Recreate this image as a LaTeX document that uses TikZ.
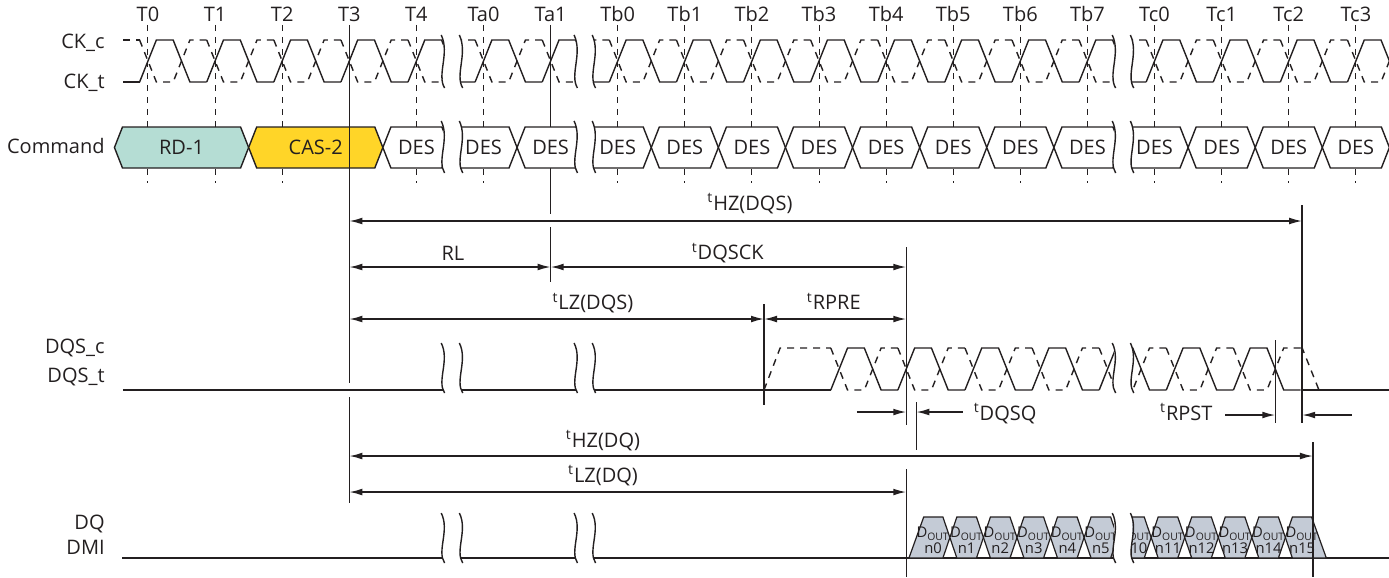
\documentclass[tikz,border=0pt]{standalone}
\usepackage{fontspec}
\setmainfont{Open Sans}
\usetikzlibrary{arrows.meta}

\definecolor{ink}{RGB}{35,31,32}
\definecolor{rdfill}{RGB}{181,221,212}
\definecolor{casfill}{RGB}{255,213,40}
\definecolor{dqfill}{RGB}{196,203,214}

\tikzset{
  sig/.style={line width=0.7pt, draw=ink},
  cdash/.style={dash pattern=on 3.5pt off 3pt},
  grid/.style={line width=0.5pt, draw=ink, dash pattern=on 3pt off 3pt},
  refline/.style={line width=0.75pt, draw=ink},
  dim/.style={line width=0.75pt, draw=ink, {Latex[length=6.5pt,width=3.4pt]}-{Latex[length=6.5pt,width=3.4pt]}},
  tip/.style={line width=0.75pt, draw=ink, -{Latex[length=6.5pt,width=3.4pt]}},
  lab/.style={font=\fontsize{10}{12}\selectfont, text=ink, inner sep=0pt, text height=7.2pt, text depth=0pt},
  signame/.style={lab, anchor=east},
  tick/.style={lab, font=\fontsize{10}{12}\selectfont, text height=7.2pt},
  cmdbox/.style={line width=0.7pt, draw=ink},
  dbox/.style={line width=0.6pt, draw=ink, fill=dqfill},
  dlab/.style={font=\fontsize{7.4}{8}\selectfont, text=ink, inner sep=0pt, text height=5.3pt, text depth=0pt},
}

% one clock period, rising crossing at #1, levels #2 (after) / #3 (before)
\newcommand\ckper[4]{%
  \draw[#4] ({#1-0.125},#3) -- ({#1+0.125},#2) -- ({#1+0.375},#2) -- ({#1+0.625},#3) -- ({#1+0.875},#3);}
% break mark at #1 from y #2 to y #3
\newcommand\wavebreak[3]{%
  \draw[sig] ({#1-0.03},#2) .. controls ({#1+0.1},{#2+0.35*(#3-#2)}) and ({#1-0.1},{#2+0.75*(#3-#2)}) .. ({#1+0.02},#3);}
% command box: name, from, to, fill, text
\newcommand\cmdhex[5]{%
  \filldraw[cmdbox, fill=#4] (#2,147.5) -- ({#2+0.12},127) -- ({#3-0.12},127) -- (#3,147.5) -- ({#3-0.12},168) -- ({#2+0.12},168) -- cycle;
  \node[lab] (#1) at ({(#2+#3)/2},147.5) {#5};}
% data box: name, start, text
\newcommand\dout[3]{%
  \filldraw[dbox] (#2,537.5) -- ({#2+0.104},517) -- ({#2+0.396},517) -- ({#2+0.5},537.5) -- ({#2+0.396},558) -- ({#2+0.104},558) -- cycle;
  \node[dlab] (#1) at ({#2+0.25},532) {D\textsubscript{OUT}};
  \node[dlab] (#1-n) at ({#2+0.25},548) {#3};}

\begin{document}
\begin{tikzpicture}[x=33.55pt, y=-0.5pt]
\useasboundingbox (-2.2054,0) rectangle (18.494,577);

% clock edges
\foreach \lab [count=\i from 0] in {T0,T1,T2,T3,T4,Ta0,Ta1,Tb0,Tb1,Tb2,Tb3,Tb4,Tb5,Tb6,Tb7,Tc0,Tc1,Tc2,Tc3} {
  \node[tick] (\lab) at (\i,14.5) {\lab};
  \draw[grid] (\i,25) -- (\i,183);
}

% timing marks
\coordinate (cas) at (3,0);
\coordinate (rl) at (6,0);
\coordinate (pre) at (9.18,0);
\coordinate (sck) at (11.3,0);
\coordinate (dqsq) at (11.45,0);
\coordinate (pst) at (16.8,0);
\coordinate (hzs) at (17.2,0);
\coordinate (hzq) at (17.36,0);

\draw[refline] (rl |- 0,25) -- (rl |- 0,214);
\draw[refline] (rl |- 0,227) -- (rl |- 0,282);

% CK_t / CK_c
\draw[sig] (-0.37,82) -- (-0.125,82);
\draw[sig,cdash] (-0.37,40) -- (-0.125,40);
\foreach \i in {0,...,18} {
  \ckper{\i}{40}{82}{sig}
  \ckper{\i}{82}{40}{sig,cdash}
}

% command
\cmdhex{rd}{-0.5}{1.5}{rdfill}{RD-1}
\cmdhex{cas2}{1.5}{3.5}{casfill}{CAS-2}
\foreach \i in {4,...,18} {\cmdhex{des\i}{\i-0.5}{\i+0.5}{white}{DES}}

% DQS_t / DQS_c
\draw[sig] (-0.373,390) -- (10.175,390);
\foreach \i in {10,...,16} {\ckper{\i+0.3}{348}{390}{sig}}
\draw[sig] (17.175,390) -- (18.5,390);
\draw[sig,cdash] (9.18,390) -- (9.42,348) -- (10.175,348);
\foreach \i in {10,...,16} {\ckper{\i+0.3}{390}{348}{sig,cdash}}
\draw[sig,cdash] (17.175,348) -- (17.2,348) -- (17.45,390);

% DQ / DMI
\draw[sig] (-0.387,558) -- (18.5,558);
\filldraw[dbox] (11.34,558) -- (11.56,517) -- (11.846,517) -- (11.95,537.5) -- (11.846,558) -- cycle;
\node[dlab] (n0) at (11.70,532) {D\textsubscript{OUT}};
\node[dlab] (n0-n) at (11.70,548) {n0};
\foreach \k in {1,...,5} {\dout{n\k}{11.45+0.5*\k}{n\k}}
\foreach \k in {10,...,14} {\dout{n\k}{9.45+0.5*\k}{n\k}}
\filldraw[dbox] (16.95,537.5) -- (17.054,517) -- (17.34,517) -- (17.56,558) -- (17.054,558) -- cycle;
\node[dlab] (n15) at (17.2,532) {D\textsubscript{OUT}};
\node[dlab] (n15-n) at (17.2,548) {n15};

% time breaks
\foreach \a/\b in {4.4/4.67, 6.38/6.65, 14.4/14.67} {
  \fill[white] (\a,33) rectangle (\b,91);
  \fill[white] (\a,119) rectangle (\b,176);
  \fill[white] (\a,340) rectangle (\b,396);
  \fill[white] (\a,510) rectangle (\b,566);
  \foreach \y/\z in {35/88, 121/173, 343/393, 513/563} {
    \wavebreak{\a}{\y}{\z}
    \wavebreak{\b}{\y}{\z}
  }
}

% reference lines
\draw[refline] (cas |- 0,30) -- (cas |- 0,383);
\draw[refline] (cas |- 0,397) -- (cas |- 0,503);
\draw[refline] (pre |- 0,304) -- (pre |- 0,405);
\draw[refline] (sck |- 0,247) -- (sck |- 0,425);
\draw[refline] (sck |- 0,469) -- (sck |- 0,577);
\draw[refline] (dqsq |- 0,402) -- (dqsq |- 0,450);
\draw[refline] (pst |- 0,340) -- (pst |- 0,423);
\draw[refline] (hzs |- 0,205) -- (hzs |- 0,423);
\draw[refline] (hzq |- 0,442) -- (hzq |- 0,577);

% timing arrows
\draw[dim] (cas |- 0,221) -- (hzs |- 0,221);
\draw[dim] (cas |- 0,267) -- (rl |- 0,267);
\draw[dim] (rl |- 0,267) -- (sck |- 0,267);
\draw[dim] (cas |- 0,319) -- (pre |- 0,319);
\draw[dim] (pre |- 0,319) -- (sck |- 0,319);
\coordinate (sq-l) at (10.565,412);
\coordinate (sq-r) at (12.145,412);
\draw[tip] (sq-l) -- (sck |- sq-l);
\draw[tip] (sq-r) -- (dqsq |- sq-r);
\coordinate (pt-l) at (16.05,415);
\coordinate (pt-r) at (17.94,415);
\draw[tip] (pt-l) -- (pst |- pt-l);
\draw[tip] (pt-r) -- (hzs |- pt-r);
\draw[dim] (cas |- 0,456) -- (hzq |- 0,456);
\draw[dim] (cas |- 0,492) -- (sck |- 0,492);

\node[lab] (l-hzs) at (8.97,203) {\textsuperscript{t}HZ(DQS)};
\node[lab] (l-rl) at (4.545,253) {RL};
\node[lab] (l-sck) at (8.64,252.5) {\textsuperscript{t}DQSCK};
\node[lab] (l-lzs) at (6.63,302.5) {\textsuperscript{t}LZ(DQS)};
\node[lab] (l-pre) at (10.22,302.5) {\textsuperscript{t}RPRE};
\node[lab, anchor=west] (l-sq) at (12.30,413) {\textsuperscript{t}DQSQ};
\node[lab, anchor=east] (l-pst) at (15.87,413) {\textsuperscript{t}RPST};
\node[lab] (l-hzq) at (6.78,440) {\textsuperscript{t}HZ(DQ)};
\node[lab] (l-lzq) at (6.78,475) {\textsuperscript{t}LZ(DQ)};

% signal names
\node[signame] (ckc) at (-0.64,41) {CK\_c};
\node[signame] (ckt) at (-0.64,81) {CK\_t};
\node[signame] (cmd) at (-0.64,146) {Command};
\node[signame] (dqsc) at (-0.64,346) {DQS\_c};
\node[signame] (dqst) at (-0.64,375) {DQS\_t};
\node[signame] (dq) at (-0.64,522.5) {DQ};
\node[signame] (dmi) at (-0.64,547) {DMI};
\end{tikzpicture}
\end{document}
